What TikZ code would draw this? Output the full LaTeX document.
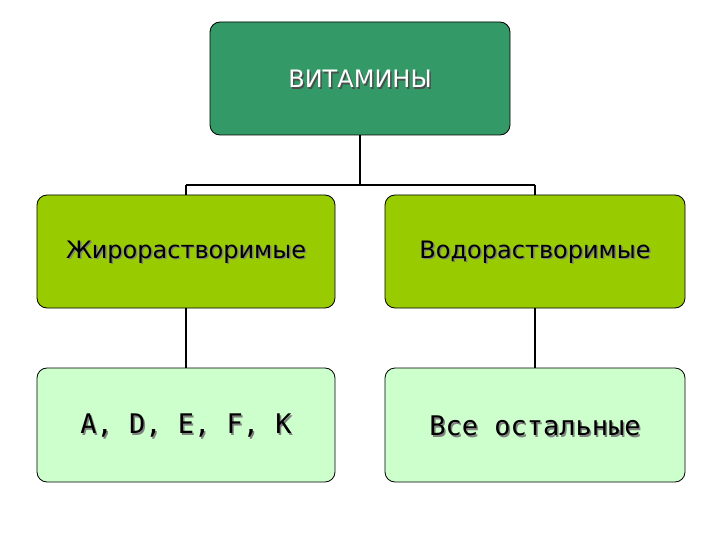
\documentclass[tikz,border=0pt]{standalone}
\usepackage{fontspec}
\setmainfont{DejaVu Sans}
\newfontfamily\monof{DejaVu Sans Mono}
\begin{document}
\begin{tikzpicture}[x=1pt,y=-1pt,
  bx/.style={draw=black,line width=0.8pt,rounded corners=10pt},
  ln/.style={line width=2pt,black},
  lab/.style={font=\fontsize{24}{28}\selectfont}]
\useasboundingbox[fill=white] (0,0) rectangle (720,540);
\draw[bx,fill={rgb,255:red,51;green,153;blue,102}] (210,22) rectangle (510,135);
\draw[bx,fill={rgb,255:red,153;green,204;blue,0}] (37,195) rectangle (335,308);
\draw[bx,fill={rgb,255:red,153;green,204;blue,0}] (385,195) rectangle (685,308);
\draw[bx,fill={rgb,255:red,204;green,255;blue,204}] (37,368) rectangle (335,482);
\draw[bx,fill={rgb,255:red,204;green,255;blue,204}] (385,368) rectangle (685,482);
\coordinate (t) at (360,135); \coordinate (tm) at (360,185);
\coordinate (l) at (186,185); \coordinate (r) at (535,185);
\coordinate (l1) at (186,195); \coordinate (r1) at (535,195);
\draw[ln] (t) -- (tm); \draw[ln] (l) -- (r);
\draw[ln] (l) -- (l1); \draw[ln] (r) -- (r1);
\coordinate (l2) at (186,308); \coordinate (l3) at (186,368);
\coordinate (r2) at (535,308); \coordinate (r3) at (535,368);
\draw[ln] (l2) -- (l3); \draw[ln] (r2) -- (r3);
\node[lab,text=black!70] at (361.5,80.5) {ВИТАМИНЫ};
\node[lab,text=white] (top) at (360,79) {ВИТАМИНЫ};
\node[lab,text=gray,font=\fontsize{24}{28}\selectfont] at (187.5,253.5) {Жирорастворимые};
\node[lab,font=\fontsize{24}{28}\selectfont] (a) at (186,252) {Жирорастворимые};
\node[lab,text=gray] at (536.5,253.5) {Водорастворимые};
\node[lab] (b) at (535,252) {Водорастворимые};
\node[text=gray,font=\monof\fontsize{27}{30}\selectfont] at (187.5,427.5) {A, D, E, F, K};
\node[font=\monof\fontsize{27}{30}\selectfont] (c) at (186,426) {A, D, E, F, K};
\node[text=gray,font=\monof\fontsize{27}{30}\selectfont] at (536.5,427.5) {Все остальные};
\node[font=\monof\fontsize{27}{30}\selectfont] (d) at (535,426) {Все остальные};
\end{tikzpicture}
\end{document}
